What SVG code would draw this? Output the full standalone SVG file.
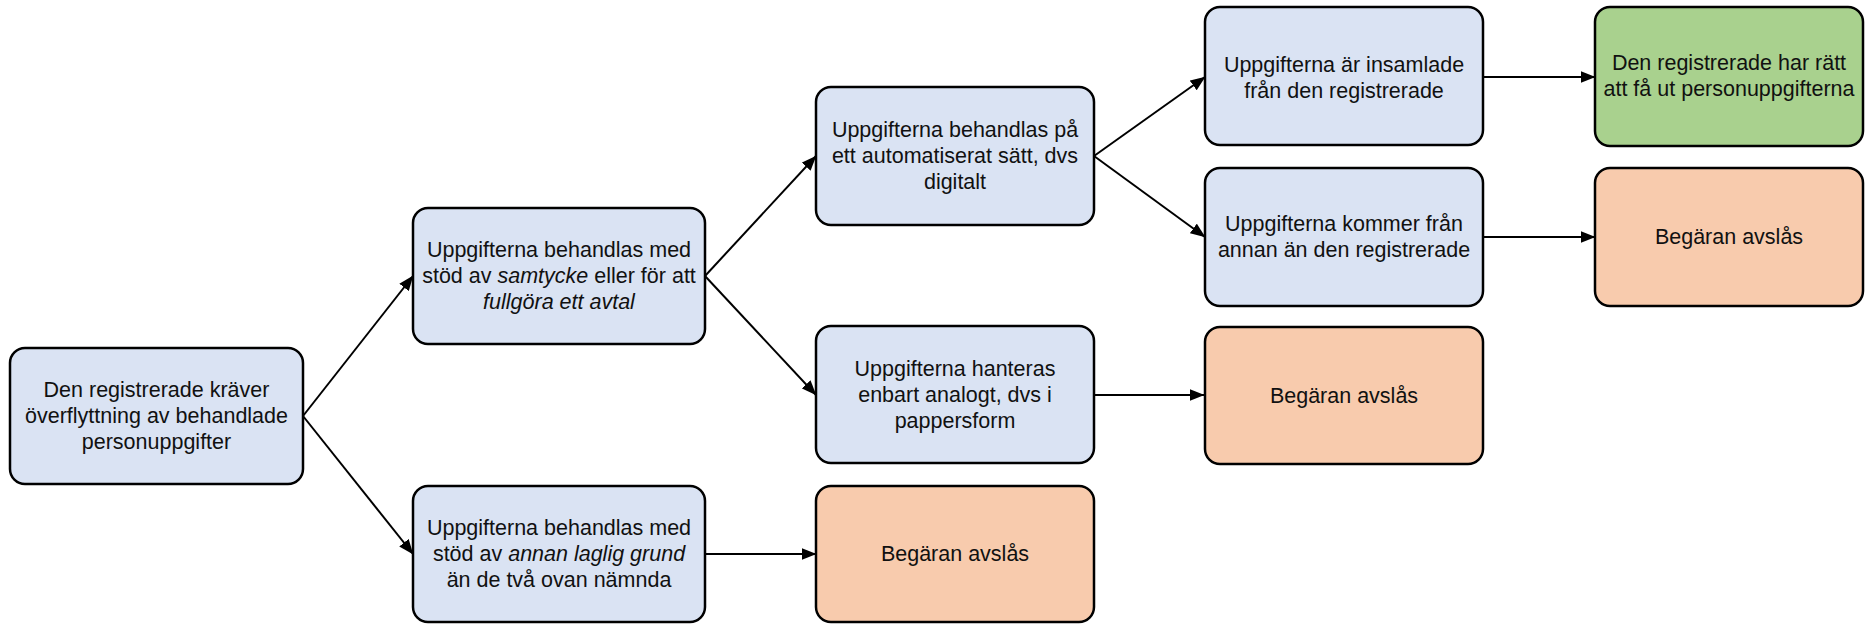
<svg xmlns="http://www.w3.org/2000/svg" width="1865" height="625" viewBox="0 0 1865 625">
<style>
.box{stroke:#000;stroke-width:2.5}
.blue{fill:#DAE3F3}
.green{fill:#A9D18E}
.orange{fill:#F8CBAD}
.t{font-family:"Liberation Sans",Arial,sans-serif;font-size:21.5px;fill:#111;text-anchor:middle}
.c{stroke:#000;stroke-width:2;fill:none;marker-end:url(#ah)}
</style>
<defs>
<marker id="ah" markerUnits="userSpaceOnUse" markerWidth="15" markerHeight="12" refX="14.5" refY="6" orient="auto">
<path d="M0,0 L15,6 L0,12 z" fill="#000"/>
</marker>
</defs>
<rect width="1865" height="625" fill="#fff"/>
<g id="connectors">
<line class="c" x1="303" y1="416" x2="413" y2="276"/>
<line class="c" x1="303" y1="416" x2="413" y2="554"/>
<line class="c" x1="705" y1="276" x2="816" y2="156"/>
<line class="c" x1="705" y1="276" x2="816" y2="395"/>
<line class="c" x1="1094" y1="156" x2="1205" y2="77"/>
<line class="c" x1="1094" y1="156" x2="1205" y2="237"/>
<line class="c" x1="1483" y1="77" x2="1595" y2="77"/>
<line class="c" x1="1483" y1="237" x2="1595" y2="237"/>
<line class="c" x1="1094" y1="395" x2="1204" y2="395"/>
<line class="c" x1="705" y1="554" x2="816" y2="554"/>
</g>
<g id="nodeA">
<rect class="box blue" x="10" y="348" width="293" height="136" rx="15"/>
<text class="t" x="156.5" y="397">Den registrerade kräver</text>
<text class="t" x="156.5" y="423">överflyttning av behandlade</text>
<text class="t" x="156.5" y="449">personuppgifter</text>
</g>
<g id="nodeB">
<rect class="box blue" x="413" y="208" width="292" height="136" rx="15"/>
<text class="t" x="559" y="257">Uppgifterna behandlas med</text>
<text class="t" x="559" y="283">stöd av <tspan font-style="italic">samtycke</tspan> eller för att</text>
<text class="t" x="559" y="309" font-style="italic">fullgöra ett avtal</text>
</g>
<g id="nodeC">
<rect class="box blue" x="413" y="486" width="292" height="136" rx="15"/>
<text class="t" x="559" y="535">Uppgifterna behandlas med</text>
<text class="t" x="559" y="561">stöd av <tspan font-style="italic">annan laglig grund</tspan></text>
<text class="t" x="559" y="587">än de två ovan nämnda</text>
</g>
<g id="nodeD">
<rect class="box blue" x="816" y="87" width="278" height="138" rx="15"/>
<text class="t" x="955" y="137">Uppgifterna behandlas på</text>
<text class="t" x="955" y="163">ett automatiserat sätt, dvs</text>
<text class="t" x="955" y="189">digitalt</text>
</g>
<g id="nodeE">
<rect class="box blue" x="816" y="326" width="278" height="137" rx="15"/>
<text class="t" x="955" y="376">Uppgifterna hanteras</text>
<text class="t" x="955" y="402">enbart analogt, dvs i</text>
<text class="t" x="955" y="428">pappersform</text>
</g>
<g id="nodeG">
<rect class="box orange" x="816" y="486" width="278" height="136" rx="15"/>
<text class="t" x="955" y="561">Begäran avslås</text>
</g>
<g id="nodeH">
<rect class="box blue" x="1205" y="7" width="278" height="138" rx="15"/>
<text class="t" x="1344" y="72">Uppgifterna är insamlade</text>
<text class="t" x="1344" y="98">från den registrerade</text>
</g>
<g id="nodeI">
<rect class="box blue" x="1205" y="168" width="278" height="138" rx="15"/>
<text class="t" x="1344" y="231">Uppgifterna kommer från</text>
<text class="t" x="1344" y="257">annan än den registrerade</text>
</g>
<g id="nodeF">
<rect class="box orange" x="1205" y="327" width="278" height="137" rx="15"/>
<text class="t" x="1344" y="403">Begäran avslås</text>
</g>
<g id="nodeJ">
<rect class="box green" x="1595" y="7" width="268" height="139" rx="15"/>
<text class="t" x="1729" y="70">Den registrerade har rätt</text>
<text class="t" x="1729" y="96">att få ut personuppgifterna</text>
</g>
<g id="nodeK">
<rect class="box orange" x="1595" y="168" width="268" height="138" rx="15"/>
<text class="t" x="1729" y="244">Begäran avslås</text>
</g>
</svg>
